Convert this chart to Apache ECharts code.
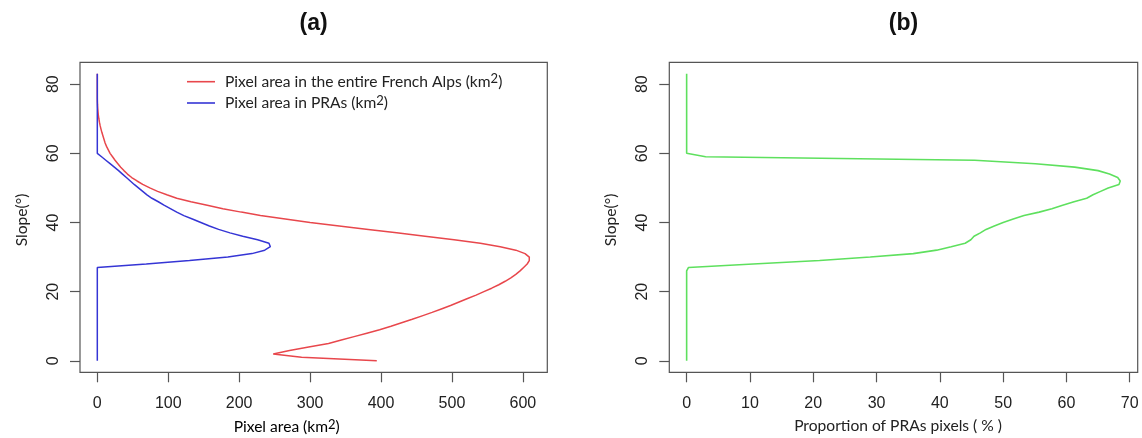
<!DOCTYPE html>
<html lang="en">
<head>
    <meta charset="UTF-8">
    <title>Slope distribution</title>
    <script src="https://cdn.jsdelivr.net/npm/echarts@6/dist/echarts.min.js"></script>
    <style>html, body { margin: 0; padding: 0; background: #fff; }</style>
</head>
<body>
<div id="chartmain" style="width:1142px; height:438px;"></div>
<script type="text/javascript">
    // slope classes (degrees)
    var slopes = [0, 1, 2, 3, 4, 5, 6, 7, 8, 9, 10, 11, 12, 13, 14, 15, 16, 17, 18, 19,
        20, 21, 22, 23, 24, 25, 26, 27, 28, 29, 30, 31, 32, 33, 34, 35, 36, 37, 38, 39,
        40, 41, 42, 43, 44, 45, 46, 47, 48, 49, 50, 51, 52, 53, 54, 55, 56, 57, 58, 59,
        60, 61, 62, 63, 64, 65, 66, 67, 68, 69, 70, 71, 72, 73, 74, 75, 76, 77, 78, 79,
        80, 81, 82, 83];

    // pixel area in the entire French Alps (km2)
    var areaAlps = [394, 288, 248, 271, 298, 326, 344, 362, 380, 398,
        414, 429, 444, 458, 472, 485, 498, 510, 522, 534,
        545, 556, 566, 575, 583, 590, 596, 601, 606, 609,
        609, 603, 590, 568, 540, 503, 462, 422, 382, 341,
        300, 265, 230, 203, 177, 155, 132, 112, 98, 85,
        74, 64, 56, 48.5, 42.5, 37.5, 33, 29, 25, 21.5,
        18, 15.5, 13, 11, 9.5, 8, 6.5, 5.2, 4, 3,
        2.2, 1.5, 1, 0.6, 0.3, 0.1, 0, 0, 0, 0,
        0, 0, 0, 0];

    // pixel area in PRAs (km2)
    var areaPRA = [0, 0, 0, 0, 0, 0, 0, 0, 0, 0,
        0, 0, 0, 0, 0, 0, 0, 0, 0, 0,
        0, 0, 0, 0, 0, 0, 0, 0, 69, 130,
        184, 218, 236, 244, 242, 226, 205, 187, 171, 158,
        146, 134, 122, 112, 103, 94, 86, 77, 70, 64,
        58, 52, 46.5, 41, 35.5, 30, 24, 18, 12, 6,
        0, 0, 0, 0, 0, 0, 0, 0, 0, 0,
        0, 0, 0, 0, 0, 0, 0, 0, 0, 0,
        0, 0, 0, 0];

    // proportion of PRAs pixels (%)
    var propPRA = [0, 0, 0, 0, 0, 0, 0, 0, 0, 0,
        0, 0, 0, 0, 0, 0, 0, 0, 0, 0,
        0, 0, 0, 0, 0, 0, 0, 0.3, 10.5, 21,
        29, 35.8, 39.5, 41.8, 44, 44.9, 45.4, 46.4, 47.3, 48.6,
        50, 51.6, 53.3, 55.7, 57.7, 59.4, 61.2, 63.2, 64.2, 65.4,
        66.6, 68.3, 68.5, 68.1, 66.8, 65, 61.3, 55.1, 45.5, 3,
        0, 0, 0, 0, 0, 0, 0, 0, 0, 0,
        0, 0, 0, 0, 0, 0, 0, 0, 0, 0,
        0, 0, 0, 0];

    var ticksArea = [0, 100, 200, 300, 400, 500, 600];
    var ticksProp = [0, 10, 20, 30, 40, 50, 60, 70];
    var ticksSlope = [0, 20, 40, 60, 80];

    function pairs(values) {
        return values.map(function (v, i) { return [v, slopes[i]]; });
    }

    var textFont = 'Lato';
    var numFont = 'Liberation Sans';
    var supRich = {
        t: { fontFamily: textFont, fontSize: 15.6, color: '#222', lineHeight: 18 },
        p: { fontFamily: textFont, fontSize: 15.6, color: '#222', lineHeight: 18, padding: [0, 0, 0, 5] },
        s: { fontFamily: textFont, fontSize: 13, color: '#222', lineHeight: 12, verticalAlign: 'top' }
    };

    function xAxisOf(grid, min, max, ticks) {
        return {
            type: 'value', gridIndex: grid, min: min, max: max,
            axisLine: { show: false, onZero: false },
            splitLine: { show: false },
            axisTick: { show: true, length: 10, customValues: ticks, lineStyle: { color: '#555', width: 1.2 } },
            axisLabel: { customValues: ticks, fontFamily: numFont, fontSize: 16, color: '#222', margin: 23.5 }
        };
    }

    function yAxisOf(grid) {
        return {
            type: 'value', gridIndex: grid, min: -3.32, max: 86.32,
            axisLine: { show: false, onZero: false },
            splitLine: { show: false },
            axisTick: { show: true, length: 10, customValues: ticksSlope, lineStyle: { color: '#555', width: 1.2 } },
            axisLabel: { customValues: ticksSlope, rotate: 90, fontFamily: numFont, fontSize: 16, color: '#222', margin: 18.5 }
        };
    }

    var myChart = echarts.init(document.getElementById('chartmain'));
    myChart.setOption({
        animation: false,
        grid: [
            { left: 80, top: 62.3, width: 467.3, height: 310, show: true, borderColor: '#555', borderWidth: 1.2 },
            { left: 669.3, top: 62.3, width: 468.4, height: 310, show: true, borderColor: '#555', borderWidth: 1.2 }
        ],
        xAxis: [
            xAxisOf(0, -24.4, 634.4, ticksArea),
            xAxisOf(1, -2.74, 71.26, ticksProp)
        ],
        yAxis: [yAxisOf(0), yAxisOf(1)],
        legend: {
            data: ['Pixel area in the entire French Alps (km2)', 'Pixel area in PRAs (km2)'],
            orient: 'vertical',
            left: 187,
            top: 72.7,
            padding: 0,
            icon: 'rect',
            itemWidth: 28,
            itemHeight: 1.6,
            itemGap: 4.3,
            formatter: function (name) {
                return '{p|' + name.replace(' (km2)', ' (km') + '}{s|2}{t|)}';
            },
            textStyle: { rich: supRich }
        },
        graphic: [
            { type: 'text', x: 313.6, y: 23.3, style: { text: '(a)', font: 'bold 23px "Liberation Sans"', fill: '#111', align: 'center', verticalAlign: 'middle' } },
            { type: 'text', x: 903.5, y: 23.3, style: { text: '(b)', font: 'bold 23px "Liberation Sans"', fill: '#111', align: 'center', verticalAlign: 'middle' } },
            { type: 'text', x: 286.7, y: 427.3, style: { text: '{t|Pixel area (km}{s|2}{t|)}', rich: supRich, align: 'center', verticalAlign: 'middle' } },
            { type: 'text', x: 898, y: 426, style: { text: 'Proportion of PRAs pixels ( % )', font: '15.6px Lato', fill: '#222', align: 'center', verticalAlign: 'middle' } },
            { type: 'text', x: 21.7, y: 220, rotation: Math.PI / 2, style: { text: 'Slope(°)', font: '15.6px Lato', fill: '#222', align: 'center', verticalAlign: 'middle' } },
            { type: 'text', x: 610.5, y: 220, rotation: Math.PI / 2, style: { text: 'Slope(°)', font: '15.6px Lato', fill: '#222', align: 'center', verticalAlign: 'middle' } }
        ],
        series: [
            {
                name: 'Pixel area in the entire French Alps (km2)', type: 'line',
                xAxisIndex: 0, yAxisIndex: 0, symbol: 'none',
                itemStyle: { color: '#e8474c' },
                lineStyle: { color: '#e8474c', width: 1.5 },
                data: pairs(areaAlps)
            },
            {
                name: 'Pixel area in PRAs (km2)', type: 'line',
                xAxisIndex: 0, yAxisIndex: 0, symbol: 'none',
                itemStyle: { color: '#3535d5' },
                lineStyle: { color: '#3535d5', width: 1.5 },
                data: pairs(areaPRA)
            },
            {
                name: 'Proportion of PRAs pixels', type: 'line',
                xAxisIndex: 1, yAxisIndex: 1, symbol: 'none',
                itemStyle: { color: '#5ee05e' },
                lineStyle: { color: '#5ee05e', width: 1.6 },
                data: pairs(propPRA)
            }
        ]
    });
</script>
</body>
</html>
